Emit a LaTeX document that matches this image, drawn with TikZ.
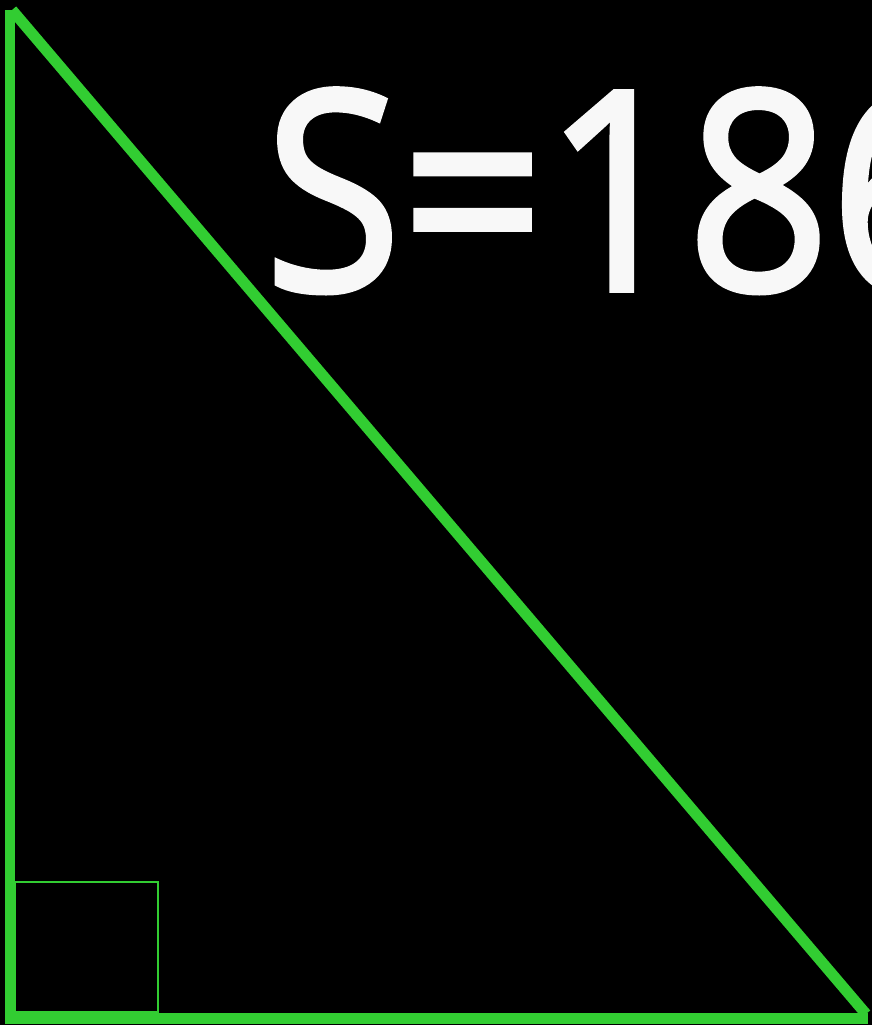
\documentclass[tikz,border=0pt]{standalone}
\usepackage{fontspec}
\setmainfont{Open Sans}
\newfontfamily\areafont[FakeBold=2]{Open Sans}
\definecolor{legcolor}{RGB}{50,205,50}
\definecolor{textcolor}{RGB}{248,248,248}
\tikzset{side/.style={legcolor,line width=0.22cm},
  rightmark/.style={legcolor,line width=0.04cm}}
\begin{document}
\begin{tikzpicture}[x=0.02cm,y=-0.02cm]
\useasboundingbox (0,0) rectangle (872,1025);
\fill[black] (0,0) rectangle (872,1025);
\clip (0,0) rectangle (872,1025);
\coordinate (top) at (10,10);
\coordinate (corner) at (10,1018);
\coordinate (right) at (868,1018);
\coordinate (hyptop) at (12,10);
\coordinate (hypend) at (866,1014);
\draw[side] (top) -- (corner) -- (right);
\draw[side] (hyptop) -- (hypend);
\draw[rightmark] (15,882) rectangle (158,1012);
\node[anchor=base west,inner sep=0,xscale=0.9,text=textcolor,font=\areafont\fontsize{158}{158}\selectfont] (area) at (264,290) {S=186};
\end{tikzpicture}
\end{document}
